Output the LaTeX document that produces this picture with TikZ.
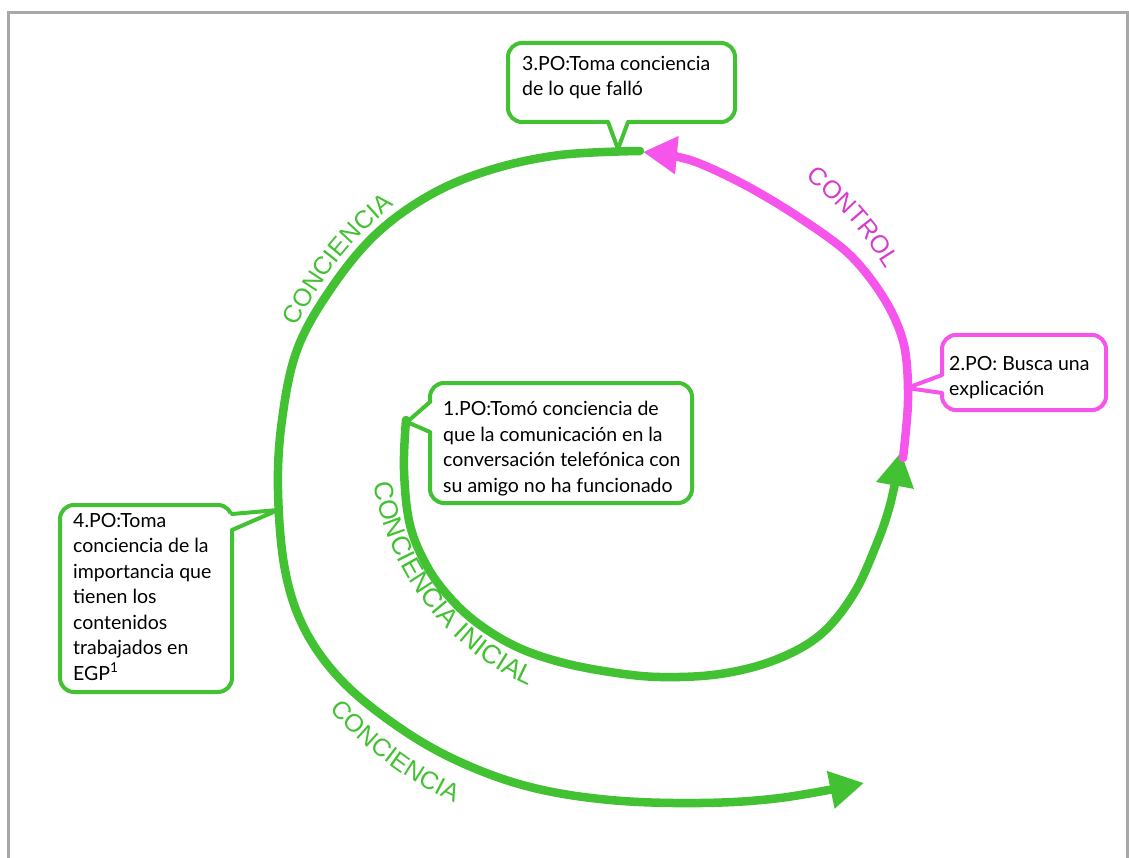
\documentclass[tikz,border=0pt]{standalone}
\usepackage{fontspec}
\setmainfont{Lato}
\newfontfamily\labelsans{Liberation Sans}
\usetikzlibrary{arrows.meta,calc,decorations.text}

\definecolor{spiralgreen}{RGB}{66,194,50}
\definecolor{ctrlpink}{RGB}{245,85,235}
\definecolor{ctrltext}{RGB}{215,60,205}
\definecolor{framegray}{RGB}{168,168,168}

\newcommand\lblfont{\labelsans\fontsize{25}{30}\selectfont}
\newcommand\biglblfont{\labelsans\fontsize{26.5}{30}\selectfont}
\newcommand\boxfont{\fontsize{19.5}{25.5}\selectfont}

\begin{document}
\begin{tikzpicture}[x=1pt,y=1pt,
  pobox/.style={draw=#1, line width=4pt, rounded corners=14pt, fill=white,
    anchor=north west, inner sep=0pt, outer sep=0pt},
  potext/.style={anchor=north west, inner sep=0pt, align=left, font=\boxfont},
  pointer/.style={draw=#1, line width=4pt, line join=round, line cap=round},
  spiral/.style={draw=spiralgreen, line width=8.5pt, line cap=round},
  ctrlline/.style={draw=ctrlpink, line width=8.5pt, line cap=round},
  bigtip/.style={-{Triangle[length=34pt,width=36pt]}},
  arclabel/.style n args={3}{decorate, decoration={text along path,
    text align=center, text color=#1, text={|#2|#3}}}]

\useasboundingbox (0,0) rectangle (1129,-858);

% page frame
\draw[framegray, line width=3pt] (8,-858) -- (8,-13) -- (1127,-13) -- (1127,-858);

% outer awareness spiral
\draw[spiral, bigtip] plot[smooth, tension=0.6] coordinates {
  (640,-151) (560,-155) (490,-170) (430,-195) (375,-235) (330,-290)
  (297,-350) (282,-420) (278,-490) (285,-570) (305,-630) (343,-682)
  (400,-728) (460,-762) (530,-787) (610,-800) (700,-803) (780,-798)
  (864,-783)};

% inner spiral
\draw[spiral, bigtip] plot[smooth, tension=0.6] coordinates {
  (406,-420) (404,-470) (410,-525) (428,-568) (452,-600) (480,-625)
  (517,-647) (560,-662) (610,-672) (660,-677) (720,-674) (775,-660)
  (820,-635) (853,-595) (875,-548) (890,-505) (901,-452)};

% control arc
\draw[ctrlline, bigtip] plot[smooth, tension=0.55] coordinates {
  (903,-458) (908,-400) (904,-345) (885,-300) (850,-255) (800,-218)
  (745,-185) (690,-160) (643,-152)};

% labels along the curves
\path[arclabel={spiralgreen}{\lblfont}{CONCIENCIA}]
  (615,-480) ++(165:353) arc[start angle=165, end angle=118, radius=353];
\path[arclabel={ctrltext}{\lblfont}{CONTROL}]
  (590,-450) ++(55:347) arc[start angle=55, end angle=28, radius=347];
\path[arclabel={spiralgreen}{\biglblfont}{CONCIENCIA INICIAL}]
  (640,-440) ++(180:270) arc[start angle=180, end angle=255, radius=270];
\path[arclabel={spiralgreen}{\lblfont}{CONCIENCIA}]
  (600,-480) ++(210:354) arc[start angle=210, end angle=256, radius=354];

% callout boxes
\node[pobox=spiralgreen, minimum width=227pt, minimum height=79pt] (po3) at (508,-43) {};
\node[pobox=ctrlpink, minimum width=164pt, minimum height=75pt] (po2) at (942,-335) {};
\node[pobox=spiralgreen, minimum width=262pt, minimum height=120pt] (po1) at (430,-383) {};
\node[pobox=spiralgreen, minimum width=172pt, minimum height=187pt] (po4) at (60,-505) {};

% callout pointers
\coordinate (t3) at (618,-149);
\coordinate (t2) at (907,-388);
\coordinate (t1) at (407,-422);
\coordinate (t4) at (278,-510);

\fill[white] ($(po3.south)+(-13.5,3)$) -- (t3) -- ($(po3.south)+(6.5,3)$) -- cycle;
\draw[pointer=spiralgreen] ($(po3.south)+(-13.5,0)$) -- (t3) -- ($(po3.south)+(6.5,0)$);

\fill[white] ($(po2.west)+(3,-2.5)$) -- (t2) -- ($(po2.west)+(3,-20.5)$) -- cycle;
\draw[pointer=ctrlpink] ($(po2.west)+(0,-2.5)$) -- (t2) -- ($(po2.west)+(0,-20.5)$);

\fill[white] ($(po1.west)+(3,41)$) -- (t1) -- ($(po1.west)+(3,11)$) -- cycle;
\draw[pointer=spiralgreen] ($(po1.west)+(0,41)$) -- (t1) -- ($(po1.west)+(0,11)$);

\fill[white] ($(po4.east)+(-3,84.5)$) -- (t4) -- ($(po4.east)+(-3,68.5)$) -- cycle;
\draw[pointer=spiralgreen] ($(po4.east)+(0,84.5)$) -- (t4) -- ($(po4.east)+(0,68.5)$);

% callout texts
\node[potext] (po3txt) at ($(po3.north west)+(14,-13)$)
  {3.PO:Toma conciencia\\de lo que falló};
\node[potext] (po2txt) at ($(po2.north west)+(7,-21)$)
  {2.PO: Busca una\\explicación};
\node[potext] (po1txt) at ($(po1.north west)+(13,-18)$)
  {1.PO:Tomó conciencia de\\que la comunicación en la\\conversación telefónica con\\su amigo no ha funcionado};
\node[potext] (po4txt) at ($(po4.north west)+(13,-8)$)
  {4.PO:Toma\\conciencia de la\\importancia que\\tienen los\\contenidos\\trabajados en\\EGP\textsuperscript{1}};

\end{tikzpicture}
\end{document}
